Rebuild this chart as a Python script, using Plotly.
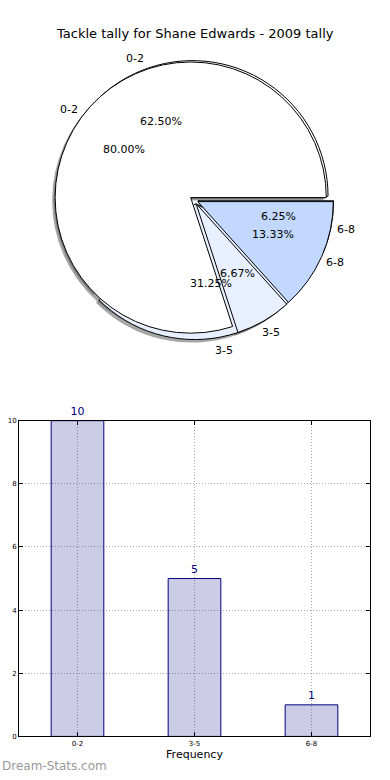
import math
import plotly.graph_objects as go

# ---------------- data ----------------
categories = ["0-2", "3-5", "6-8"]
tally_back = [10, 5, 1]      # 62.50% / 31.25% / 6.25%  (also the bar chart)
tally_front = [12, 1, 2]     # 80.00% / 6.67% / 13.33%
y_ticks = [0, 2, 4, 6, 8, 10]
title_text = "Tackle tally for Shane Edwards - 2009 tally"
x_title = "Frequency"
watermark = "Dream-Stats.com"

# ---------------- style / layout ----------------
W, H = 390, 780
FONT = "DejaVu Sans"
slice_colors = ["#ffffff", "#e8f0ff", "#c3d8ff"]
shadow_color = "rgba(77,77,77,0.5)"
PIE_CX, PIE_CY, PIE_R = 194, 198, 137
PULL = 0.03
SHADOW_DX, SHADOW_DY = -3, 3


def pie_domain(cx, cy):
    half = PIE_R * (1 + PULL)
    return dict(x=[(cx - half) / W, (cx + half) / W],
                y=[1 - (cy + half) / H, 1 - (cy - half) / H])


def start_rotation(vals):
    # first slice begins at 3 o'clock and runs counter-clockwise
    return 90 - 360.0 * vals[0] / sum(vals)


fig = go.Figure()

common = dict(labels=categories, sort=False, direction="counterclockwise",
              textinfo="none", hoverinfo="label+percent", showlegend=False)

# shadows (behind everything)
for vals in (tally_back, tally_front):
    fig.add_trace(go.Pie(values=vals, pull=[PULL] * len(vals),
                         rotation=start_rotation(vals),
                         marker=dict(colors=[shadow_color] * len(vals),
                                     line=dict(width=0)),
                         domain=pie_domain(PIE_CX + SHADOW_DX, PIE_CY + SHADOW_DY),
                         **common))
# wedges
for vals in (tally_back, tally_front):
    fig.add_trace(go.Pie(values=vals, pull=[PULL] * len(vals),
                         rotation=start_rotation(vals),
                         marker=dict(colors=slice_colors,
                                     line=dict(color="black", width=1)),
                         domain=pie_domain(PIE_CX, PIE_CY),
                         **common))

annotations = []


def pie_texts(vals):
    total = sum(vals)
    start = 0.0
    for lab, v in zip(categories, vals):
        frac = v / total
        mid = math.radians((start + frac / 2) * 360)
        start += frac
        for dist, txt in ((0.6, "%.2f%%" % (frac * 100)), (1.1, lab)):
            d = (PULL + dist) * PIE_R
            px = PIE_CX + d * math.cos(mid)
            py = PIE_CY - d * math.sin(mid)
            annotations.append(dict(x=px / W, y=1 - py / H, xref="paper",
                                    yref="paper", text=txt, showarrow=False,
                                    xanchor="center", yanchor="middle",
                                    font=dict(family=FONT, size=11,
                                              color="black")))


pie_texts(tally_back)
pie_texts(tally_front)

# ---------------- bar chart ----------------
fig.add_trace(go.Bar(x=categories, y=tally_back, width=0.45,
                     marker=dict(color="rgba(0,0,128,0.2)",
                                 line=dict(color="#000080", width=1)),
                     text=[str(v) for v in tally_back], textposition="outside",
                     textfont=dict(family=FONT, size=11, color="#000080"),
                     cliponaxis=False, showlegend=False,
                     xaxis="x", yaxis="y"))

axis_common = dict(showline=True, linecolor="black", linewidth=1,
                   mirror="ticks", ticks="inside", ticklen=4,
                   tickcolor="black", showgrid=True, gridcolor="#a8a8a8",
                   griddash="1px,2px", gridwidth=1, zeroline=False,
                   tickfont=dict(family=FONT, size=7, color="black"))

fig.update_layout(
    width=W, height=H,
    margin=dict(l=0, r=0, t=0, b=0),
    paper_bgcolor="white", plot_bgcolor="white",
    font=dict(family=FONT, color="black"),
    xaxis=dict(domain=[19 / W, 370 / W], range=[-0.5, 2.5], type="category",
               title=dict(text=x_title, font=dict(family=FONT, size=11),
                          standoff=2),
               anchor="y", **axis_common),
    yaxis=dict(domain=[40 / H, 359 / H], range=[0, 10], tickvals=y_ticks,
               anchor="x", **axis_common),
    annotations=annotations + [
        dict(x=0.5, y=1 - 30 / H, xref="paper", yref="paper",
             text=title_text, showarrow=False, xanchor="center",
             yanchor="middle", font=dict(family=FONT, size=13, color="black")),
        dict(x=0, y=1 - 770 / H, xref="paper", yref="paper", text=watermark,
             showarrow=False, xanchor="left", yanchor="middle",
             font=dict(family=FONT, size=12, color="#999999")),
    ],
)

fig.write_html("out.html",
               config={"displayModeBar": False},
               post_script="document.body.style.margin='0';"
                           "document.body.style.overflow='hidden';")
